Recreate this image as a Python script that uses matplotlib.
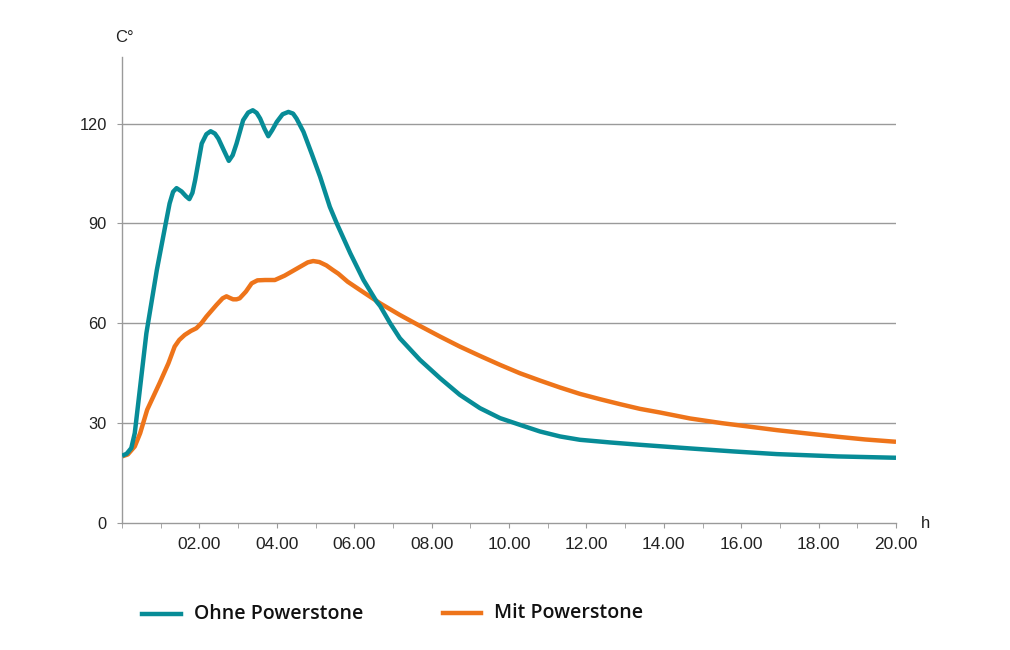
import matplotlib.pyplot as plt
from matplotlib.lines import Line2D

plt.rcParams['font.family'] = ['Liberation Sans', 'DejaVu Sans']

# Ohne Powerstone (teal), hours / degrees
ohne_h = [0.0, 0.12, 0.24, 0.33, 0.45, 0.63, 0.9, 1.13, 1.23, 1.32, 1.41, 1.54,
          1.65, 1.74, 1.82, 1.89, 2.06, 2.18, 2.29, 2.4, 2.49, 2.63, 2.76, 2.86,
          2.96, 3.13, 3.26, 3.38, 3.48, 3.57, 3.68, 3.78, 3.88, 4.0, 4.15, 4.3,
          4.42, 4.51, 4.69, 4.9, 5.12, 5.37, 5.55, 5.9, 6.24, 6.58, 6.67, 6.93,
          7.18, 7.7, 8.22, 8.73, 9.25, 9.77, 10.28, 10.8, 11.32, 11.83, 12.61,
          13.38, 14.68, 15.8, 16.92, 18.5, 20.0]
ohne_t = [20.2, 20.8, 22.5, 27, 39, 57, 76, 90, 96, 99.5, 100.6, 99.6,
          98.2, 97.3, 99.2, 103, 114, 116.8, 117.7, 117.0, 115.5, 112, 108.8, 110.5,
          114, 121, 123.3, 124, 123.2, 121.5, 118.5, 116.2, 118, 120.5, 122.8, 123.5,
          123.0, 121.5, 117.5, 111, 104, 95, 90, 81, 73, 66.5, 65.2, 60,
          55.5, 49, 43.5, 38.5, 34.5, 31.5, 29.5, 27.5, 26.0, 25.0, 24.2,
          23.5, 22.4, 21.5, 20.7, 20.0, 19.6]

# Mit Powerstone (orange)
mit_h = [0.0, 0.15, 0.33, 0.47, 0.65, 0.97, 1.2, 1.36, 1.48, 1.62, 1.78, 1.92,
         2.05, 2.18, 2.44, 2.6, 2.7, 2.79, 2.87, 2.96, 3.04, 3.2, 3.35, 3.5,
         3.7, 3.95, 4.2, 4.5, 4.8, 4.94, 5.1, 5.28, 5.45, 5.59, 5.83, 6.15,
         6.67, 7.18, 7.7, 8.22, 8.73, 9.25, 9.77, 10.28, 10.8, 11.32, 11.83,
         12.35, 12.87, 13.38, 13.9, 14.68, 15.5, 16.92, 17.7, 18.5, 19.2, 20.0]
mit_t = [20, 20.6, 23, 27, 34, 42, 48, 53, 55.0, 56.5, 57.7, 58.5,
         60, 62, 65.5, 67.5, 68.1, 67.6, 67.2, 67.2, 67.5, 69.5, 72, 72.9,
         73, 73, 74.3, 76.3, 78.3, 78.7, 78.4, 77.4, 76.0, 74.9, 72.5, 70,
         66, 62.5, 59.2, 56, 53, 50.2, 47.5, 45, 42.8, 40.7, 38.8,
         37.2, 35.7, 34.3, 33.2, 31.4, 30.0, 27.9, 26.9, 25.9, 25.1, 24.4]

y_ticks = [0, 30, 60, 90, 120]
x_ticks = [2, 4, 6, 8, 10, 12, 14, 16, 18, 20]
x_labels = ['02.00', '04.00', '06.00', '08.00', '10.00', '12.00', '14.00',
            '16.00', '18.00', '20.00']

teal = '#078C97'
orange = '#EE741A'
grey = '#9a9a9a'
txt = '#222222'

fig = plt.figure(figsize=(10.1, 6.5), dpi=100)
ax = fig.add_axes([122 / 1010, 1 - 523 / 650, (896 - 122) / 1010, (523 - 57) / 650])

for v in y_ticks[1:]:
    ax.axhline(v, color=grey, lw=1, zorder=1)

ax.plot(ohne_h, ohne_t, color=teal, lw=3.2, solid_joinstyle='round',
        solid_capstyle='butt', zorder=3)
ax.plot(mit_h, mit_t, color=orange, lw=3.2, solid_joinstyle='round',
        solid_capstyle='butt', zorder=2)

ax.set_xlim(0, 20)
ax.set_ylim(0, 140)
ax.set_yticks(y_ticks)
ax.set_yticklabels([str(v) for v in y_ticks])
ax.set_xticks(x_ticks)
ax.set_xticklabels(x_labels)
ax.set_xticks(range(0, 21), minor=True)

for s in ['top', 'right']:
    ax.spines[s].set_visible(False)
for s in ['left', 'bottom']:
    ax.spines[s].set_color(grey)
    ax.spines[s].set_linewidth(1)

ax.tick_params(axis='y', length=3.5, color=grey, labelsize=11.8, labelcolor=txt, pad=7.5)
ax.tick_params(axis='x', which='both', length=3.6, color=grey, labelsize=12.5,
               labelcolor=txt, pad=6.5)

fig.text(115 / 1010, 1 - 38 / 650, 'C°', fontsize=12, color=txt, va='center')
fig.text(921 / 1010, 1 - 524 / 650, 'h', fontsize=12, color=txt, va='center')

# legend
legend_font = ['Open Sans', 'DejaVu Sans']
fig.add_artist(Line2D([142 / 1010, 181 / 1010], [1 - 614 / 650] * 2, color=teal, lw=3.2))
fig.text(194 / 1010, 1 - 614 / 650, 'Ohne Powerstone', family=legend_font,
         fontweight='semibold', fontsize=14, va='center', color='#111111')
fig.add_artist(Line2D([443 / 1010, 481 / 1010], [1 - 613 / 650] * 2, color=orange, lw=3.2))
fig.text(494 / 1010, 1 - 613 / 650, 'Mit Powerstone', family=legend_font,
         fontweight='semibold', fontsize=14, va='center', color='#111111')

fig.savefig('out.png', dpi=100)
